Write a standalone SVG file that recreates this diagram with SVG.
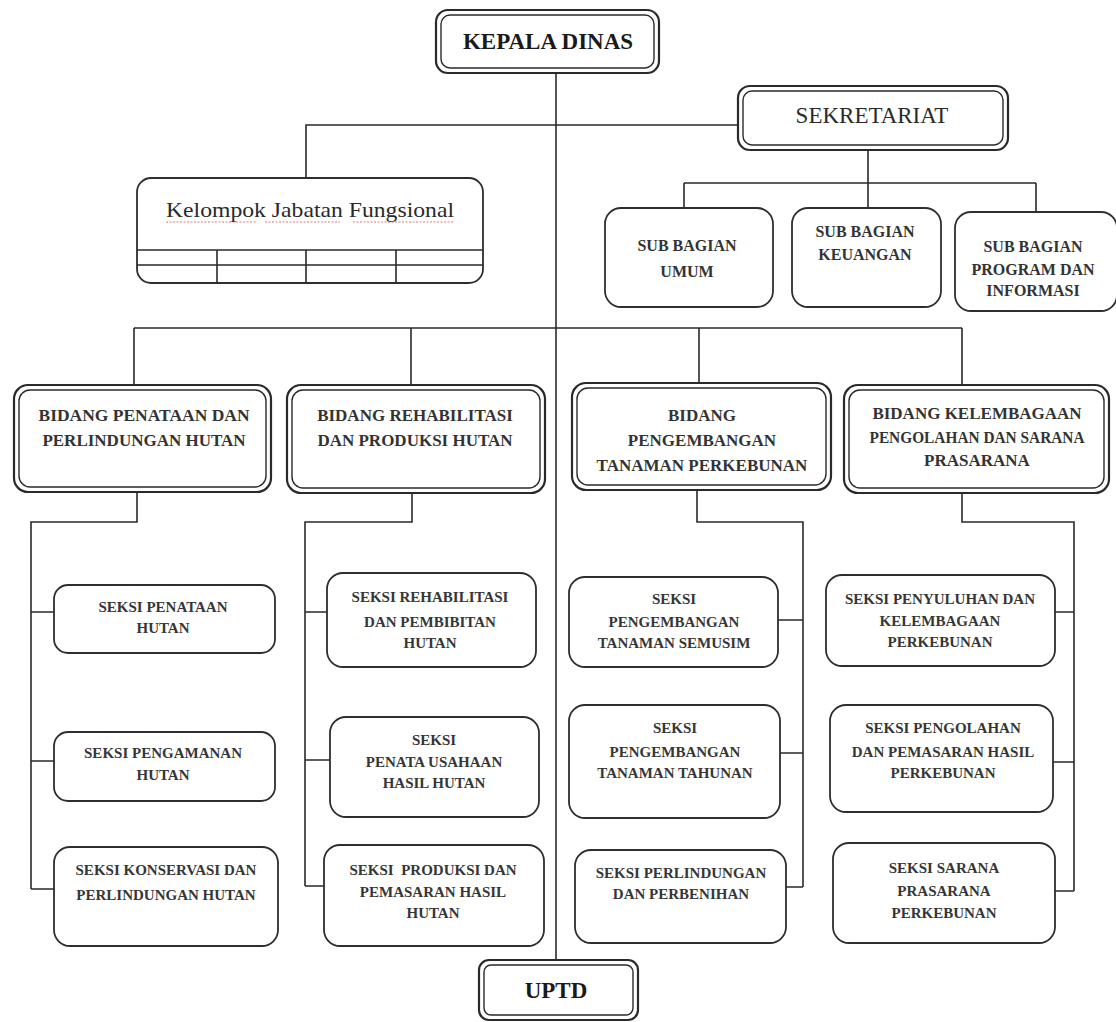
<svg xmlns="http://www.w3.org/2000/svg" width="1116" height="1022" viewBox="0 0 1116 1022">
<style>
.bg{fill:#fff}
.ln{fill:none;stroke:#2a2a2a;stroke-width:1.6}
.bx{fill:#fff;stroke:#2e2e2e;stroke-width:1.8}
.dbo{fill:#fff;stroke:#2a2a2a;stroke-width:2.2}
.dbi{fill:none;stroke:#2a2a2a;stroke-width:1.4}
.sq{fill:none;stroke:#d04040;stroke-width:1;stroke-dasharray:2 1.5;opacity:0.7}
.t{font-family:"Liberation Serif","DejaVu Serif",serif;font-weight:bold;fill:#363636;text-anchor:middle;font-size:15px}
.tb{font-family:"Liberation Serif","DejaVu Serif",serif;font-weight:bold;fill:#333;text-anchor:middle;font-size:16px}
.tg{font-family:"Liberation Serif","DejaVu Serif",serif;font-weight:bold;fill:#333;text-anchor:middle;font-size:17px}
.th{font-family:"Liberation Serif","DejaVu Serif",serif;font-weight:bold;fill:#1a1a1a;text-anchor:middle;font-size:23px}
.ts{font-family:"Liberation Serif","DejaVu Serif",serif;fill:#2a2a2a;text-anchor:middle;font-size:23px}
.tk{font-family:"Liberation Serif","DejaVu Serif",serif;fill:#2a2a2a;text-anchor:middle;font-size:21px}
</style>
<rect class="bg" x="0" y="0" width="1116" height="1022"/>
<g id="connectors">
<path class="ln" d="M556 73 V960"/>
<path class="ln" d="M737 125 H306 V178"/>
<path class="ln" d="M868 150 V208 M684 183 H1036 M684 183 V208 M1036 183 V212"/>
<path class="ln" d="M134 328 H962 M134 328 V385 M411 328 V385 M699 328 V383 M962 328 V385"/>
<path class="ln" d="M137 492 V522 H31 V889 M31 612 H54 M31 761 H54 M31 889 H54"/>
<path class="ln" d="M412 493 V522 H305 V886 M305 612 H327 M305 760 H330 M305 886 H324"/>
<path class="ln" d="M697 490 V522 H803 V887 M778 620 H803 M780 753 H803 M786 887 H803"/>
<path class="ln" d="M962 493 V522 H1074 V891 M1055 612 H1074 M1053 762 H1074 M1055 891 H1074"/>
</g>
<g id="kepala-dinas">
<rect class="dbo" x="436" y="10" width="223" height="63" rx="12"/>
<rect class="dbi" x="441" y="15" width="213" height="53" rx="9"/>
<text class="th" x="548" y="49">KEPALA DINAS</text>
</g>
<g id="sekretariat">
<rect class="dbo" x="738" y="86" width="270" height="64" rx="12"/>
<rect class="dbi" x="743" y="91" width="260" height="54" rx="9"/>
<text class="ts" x="872" y="123">SEKRETARIAT</text>
</g>
<g id="kelompok-jabatan-fungsional">
<rect class="bx" x="137" y="178" width="346" height="105" rx="14"/>
<path class="ln" d="M137 250 H483 M137 265 H483 M217 250 V283 M306 250 V283 M396 250 V283"/>
<text class="tk" x="310" y="217" textLength="288" lengthAdjust="spacingAndGlyphs">Kelompok Jabatan  Fungsional</text>
<path class="sq" d="M166 222 H257 M265 222 H340 M353 222 H454"/>
</g>
<g id="sub-bagian-umum">
<rect class="bx" x="605" y="208" width="168" height="99" rx="16"/>
<text class="tb" x="687" y="251">SUB BAGIAN</text>
<text class="tb" x="687" y="277">UMUM</text>
</g>
<g id="sub-bagian-keuangan">
<rect class="bx" x="792" y="208" width="149" height="99" rx="16"/>
<text class="tb" x="865" y="237">SUB BAGIAN</text>
<text class="tb" x="865" y="260">KEUANGAN</text>
</g>
<g id="sub-bagian-program">
<rect class="bx" x="955" y="212" width="162" height="99" rx="16"/>
<text class="tb" x="1033" y="252">SUB BAGIAN</text>
<text class="tb" x="1033" y="275">PROGRAM DAN</text>
<text class="tb" x="1033" y="296">INFORMASI</text>
</g>
<g id="bidang-penataan">
<rect class="dbo" x="14" y="385" width="257" height="107" rx="14"/>
<rect class="dbi" x="19" y="390" width="247" height="97" rx="11"/>
<text class="tg" x="144" y="421" textLength="211" lengthAdjust="spacingAndGlyphs">BIDANG PENATAAN DAN</text>
<text class="tg" x="144" y="446">PERLINDUNGAN HUTAN</text>
</g>
<g id="bidang-rehabilitasi">
<rect class="dbo" x="287" y="385" width="258" height="108" rx="14"/>
<rect class="dbi" x="292" y="390" width="248" height="98" rx="11"/>
<text class="tg" x="415" y="421">BIDANG REHABILITASI</text>
<text class="tg" x="415" y="446">DAN PRODUKSI HUTAN</text>
</g>
<g id="bidang-pengembangan">
<rect class="dbo" x="572" y="383" width="259" height="107" rx="14"/>
<rect class="dbi" x="577" y="388" width="249" height="97" rx="11"/>
<text class="tg" x="702" y="421">BIDANG</text>
<text class="tg" x="702" y="446">PENGEMBANGAN</text>
<text class="tg" x="702" y="471">TANAMAN PERKEBUNAN</text>
</g>
<g id="bidang-kelembagaan">
<rect class="dbo" x="844" y="385" width="265" height="108" rx="14"/>
<rect class="dbi" x="849" y="390" width="255" height="98" rx="11"/>
<text class="tg" x="977" y="419">BIDANG KELEMBAGAAN</text>
<text class="tg" x="977" y="443" textLength="215" lengthAdjust="spacingAndGlyphs">PENGOLAHAN DAN SARANA</text>
<text class="tg" x="977" y="466">PRASARANA</text>
</g>
<g id="seksi-penataan-hutan">
<rect class="bx" x="54" y="585" width="221" height="68" rx="14"/>
<text class="t" x="163" y="612">SEKSI PENATAAN</text>
<text class="t" x="163" y="633">HUTAN</text>
</g>
<g id="seksi-pengamanan-hutan">
<rect class="bx" x="54" y="732" width="221" height="69" rx="14"/>
<text class="t" x="163" y="758">SEKSI PENGAMANAN</text>
<text class="t" x="163" y="780">HUTAN</text>
</g>
<g id="seksi-konservasi">
<rect class="bx" x="54" y="847" width="224" height="99" rx="16"/>
<text class="t" x="166" y="875">SEKSI KONSERVASI DAN</text>
<text class="t" x="166" y="900">PERLINDUNGAN HUTAN</text>
</g>
<g id="seksi-rehabilitasi">
<rect class="bx" x="327" y="573" width="209" height="94" rx="16"/>
<text class="t" x="430" y="602">SEKSI REHABILITASI</text>
<text class="t" x="430" y="627">DAN PEMBIBITAN</text>
<text class="t" x="430" y="648">HUTAN</text>
</g>
<g id="seksi-penata-usahaan">
<rect class="bx" x="330" y="717" width="209" height="100" rx="16"/>
<text class="t" x="434" y="745">SEKSI</text>
<text class="t" x="434" y="767">PENATA USAHAAN</text>
<text class="t" x="434" y="788">HASIL HUTAN</text>
</g>
<g id="seksi-produksi">
<rect class="bx" x="324" y="845" width="220" height="101" rx="16"/>
<text class="t" x="433" y="875" xml:space="preserve">SEKSI  PRODUKSI DAN</text>
<text class="t" x="433" y="897">PEMASARAN HASIL</text>
<text class="t" x="433" y="918">HUTAN</text>
</g>
<g id="seksi-tanaman-semusim">
<rect class="bx" x="569" y="577" width="209" height="90" rx="16"/>
<text class="t" x="674" y="604">SEKSI</text>
<text class="t" x="674" y="627">PENGEMBANGAN</text>
<text class="t" x="674" y="648">TANAMAN SEMUSIM</text>
</g>
<g id="seksi-tanaman-tahunan">
<rect class="bx" x="569" y="705" width="211" height="113" rx="16"/>
<text class="t" x="675" y="733">SEKSI</text>
<text class="t" x="675" y="757">PENGEMBANGAN</text>
<text class="t" x="675" y="778">TANAMAN TAHUNAN</text>
</g>
<g id="seksi-perlindungan">
<rect class="bx" x="575" y="850" width="211" height="93" rx="16"/>
<text class="t" x="681" y="878">SEKSI PERLINDUNGAN</text>
<text class="t" x="681" y="899">DAN PERBENIHAN</text>
</g>
<g id="seksi-penyuluhan">
<rect class="bx" x="826" y="575" width="229" height="91" rx="16"/>
<text class="t" x="940" y="604">SEKSI PENYULUHAN DAN</text>
<text class="t" x="940" y="626">KELEMBAGAAN</text>
<text class="t" x="940" y="647">PERKEBUNAN</text>
</g>
<g id="seksi-pengolahan">
<rect class="bx" x="830" y="705" width="223" height="107" rx="16"/>
<text class="t" x="943" y="733">SEKSI PENGOLAHAN</text>
<text class="t" x="943" y="757">DAN PEMASARAN HASIL</text>
<text class="t" x="943" y="778">PERKEBUNAN</text>
</g>
<g id="seksi-sarana-prasarana">
<rect class="bx" x="833" y="843" width="222" height="100" rx="16"/>
<text class="t" x="944" y="873">SEKSI SARANA</text>
<text class="t" x="944" y="896">PRASARANA</text>
<text class="t" x="944" y="918">PERKEBUNAN</text>
</g>
<g id="uptd">
<rect class="dbo" x="479" y="960" width="159" height="60" rx="10"/>
<rect class="dbi" x="484" y="965" width="149" height="50" rx="7"/>
<text class="th" x="556" y="998">UPTD</text>
</g>
</svg>
